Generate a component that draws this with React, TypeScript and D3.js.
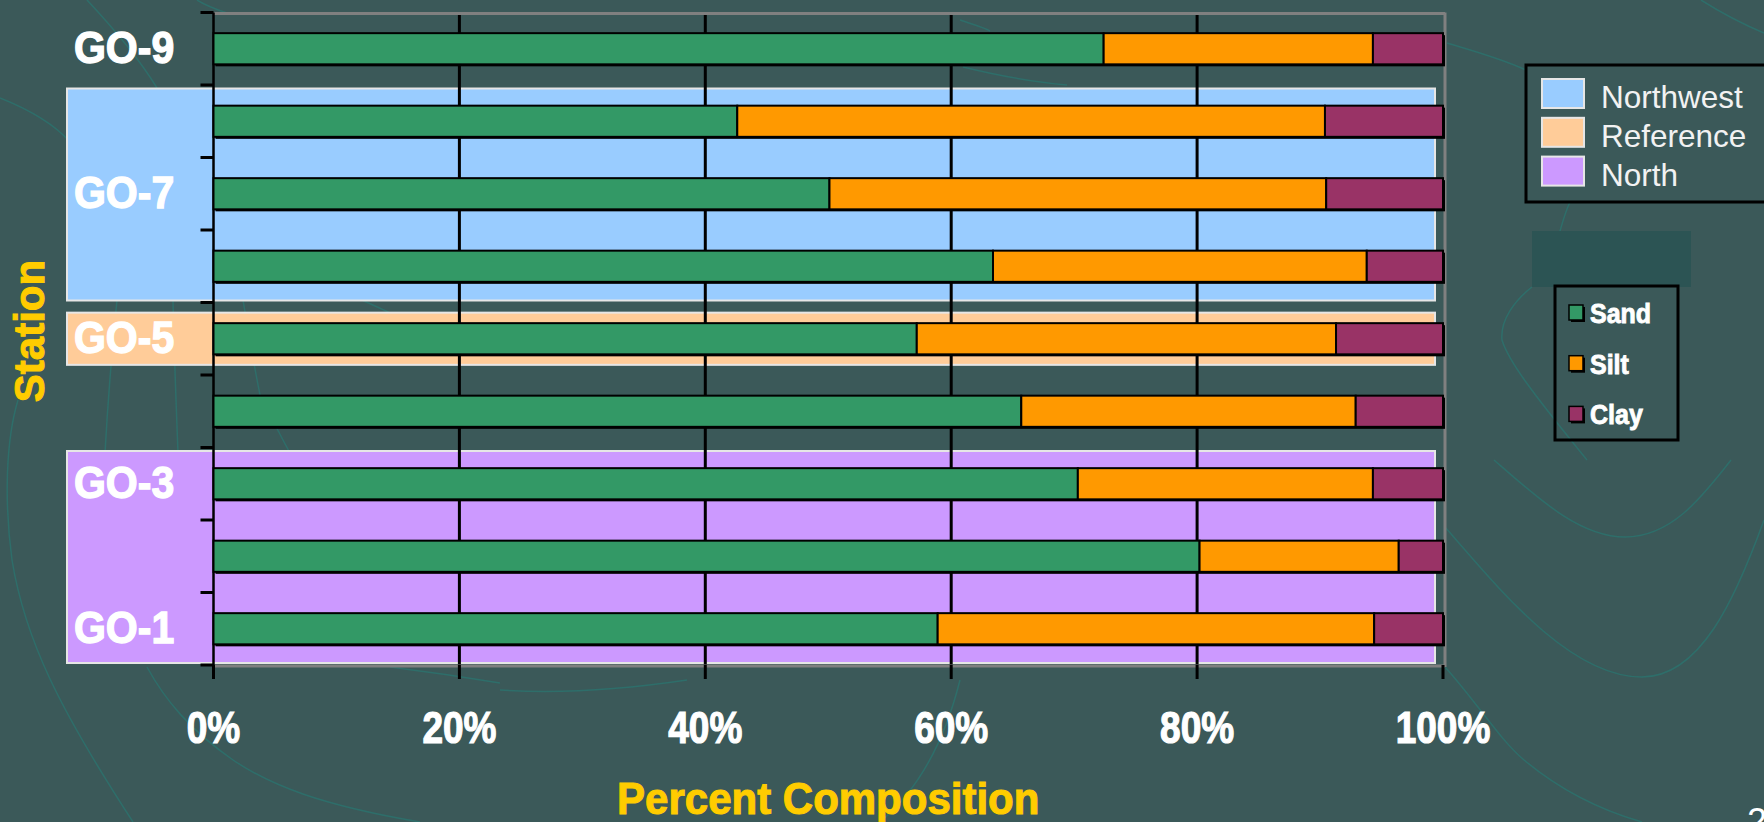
import React from "react";
import * as d3 from "d3";

// ---------- data ----------
const stations = ["GO-9", "GO-8", "GO-7", "GO-6", "GO-5", "GO-4", "GO-3", "GO-2", "GO-1"];
const stationLabels = ["GO-9", "", "GO-7", "", "GO-5", "", "GO-3", "", "GO-1"];
const sand = [72.4, 42.6, 50.1, 63.4, 57.2, 65.7, 70.3, 80.2, 58.9];
const silt = [21.9, 47.8, 40.4, 30.4, 34.1, 27.2, 24.0, 16.2, 35.5];
const clay = [5.7, 9.6, 9.5, 6.2, 8.7, 7.1, 5.7, 3.6, 5.6];
const seriesNames = ["Sand", "Silt", "Clay"];
const seriesColors = ["#339966", "#FF9900", "#993366"];
const xTicks = [0, 20, 40, 60, 80, 100];
const regionNames = ["Northwest", "Reference", "North"];
const regionColors = ["#99CCFF", "#FFCC99", "#CC99FF"];
const regionFirst = ["GO-8", "GO-5", "GO-3"];
const regionLast = ["GO-6", "GO-5", "GO-1"];

// ---------- layout ----------
const W = 1764;
const H = 822;
const BG = "#3B5959";
const FONT = "'Liberation Sans', Arial, sans-serif";

export default function App() {
  const x = d3.scaleLinear().domain([0, 100]).range([213.5, 1443]);
  const y = d3
    .scaleBand<string>()
    .domain(stations)
    .range([12.5, 665])
    .paddingInner(0.57)
    .paddingOuter(0.285);
  const step = y.step();
  const bw = y.bandwidth();
  const [y0, y1] = y.range();
  const center = (s: string) => (y(s) as number) + bw / 2;

  const rows = stations.map((s, i) => {
    const vals = [sand[i], silt[i], clay[i]];
    let acc = 0;
    const segs = vals.map((v, k) => {
      const seg = { x0: acc, x1: acc + v, color: seriesColors[k] };
      acc += v;
      return seg;
    });
    return { s, segs, total: acc };
  });

  const boundaries = d3.range(stations.length + 1).map((i) => y0 + i * step);

  const regions = regionNames.map((name, i) => {
    const a = center(regionFirst[i]);
    const b = center(regionLast[i]);
    const single = regionFirst[i] === regionLast[i];
    const top = single ? a - step * 0.36 : a - step / 2 + 3.5;
    const bottom = single ? a + step * 0.36 : b + step / 2 - 2;
    return { name, color: regionColors[i], top, bottom };
  });

  // background contour lines (decorative slide texture)
  const contours = [
    "M0,98 C30,110 55,125 70,142",
    "M87,0 C115,30 140,60 157,88",
    "M197,0 C205,5 215,9 227,13",
    "M117,300 C113,340 109,380 105,453",
    "M173,300 C174,350 176,400 178,453",
    "M243,300 C248,330 253,360 260,395 C270,415 280,435 290,453",
    "M358,298 C368,303 380,308 390,313",
    "M18,400 C6,440 4,500 12,560 C25,640 60,710 133,822",
    "M147,667 C165,700 190,730 233,760 C270,785 320,805 420,822",
    "M390,667 C430,672 470,678 500,683",
    "M500,690 C560,694 620,690 687,680",
    "M960,680 C950,720 930,780 880,822",
    "M960,20 C975,25 985,28 990,31",
    "M963,67 C1000,76 1030,82 1067,85",
    "M1447,43 C1470,50 1500,58 1526,70",
    "M1701,0 C1720,12 1745,25 1764,33",
    "M1570,202 C1564,215 1562,225 1560,231",
    "M1532,287 C1515,300 1500,320 1502,340 C1508,360 1530,390 1587,460",
    "M1494,460 C1540,500 1580,537 1625,537 C1670,537 1700,500 1731,460",
    "M1445,527 C1500,590 1570,677 1642,677 C1700,677 1735,600 1764,520",
    "M1445,667 C1475,700 1500,740 1524,760 C1560,790 1600,810 1642,822",
  ];

  return (
    <svg
      width={W}
      height={H}
      style={{ position: "absolute", left: 0, top: 0, display: "block" }}
      fontFamily={FONT}
    >
      <rect width={W} height={H} fill={BG} />
      <g fill="none" stroke="#2E6E6A" strokeWidth={1.5}>
        {contours.map((d, i) => (
          <path key={i} d={d} />
        ))}
      </g>

      {/* region bands */}
      {regions.map((r) => (
        <rect
          key={r.name}
          x={67}
          y={r.top}
          width={x(100) - 8 - 67}
          height={r.bottom - r.top}
          fill={r.color}
          stroke="#E6E6E6"
          strokeWidth={2}
        />
      ))}

      {/* gridlines */}
      {xTicks
        .filter((t) => t > 0 && t < 100)
        .map((t) => (
          <line key={t} x1={x(t)} x2={x(t)} y1={y0} y2={y1} stroke="#000" strokeWidth={3} />
        ))}

      {/* plot frame */}
      <line x1={x(0)} x2={x(100) + 2} y1={y0 + 1} y2={y0 + 1} stroke="#808080" strokeWidth={3} />
      <line x1={x(100) + 2} x2={x(100) + 2} y1={y0} y2={y1 + 2} stroke="#808080" strokeWidth={3} />
      <line x1={x(0)} x2={x(100) + 2} y1={y1 + 1} y2={y1 + 1} stroke="#808080" strokeWidth={3} />
      <line x1={x(0)} x2={x(0)} y1={y0} y2={y1 + 2} stroke="#000" strokeWidth={2.5} />
      {boundaries.map((b, i) => (
        <line key={i} x1={x(0) - 13} x2={x(0)} y1={b} y2={b} stroke="#000" strokeWidth={3} />
      ))}
      {xTicks.map((t) => (
        <line key={t} x1={x(t)} x2={x(t)} y1={y1} y2={y1 + 14} stroke="#000" strokeWidth={3} />
      ))}

      {/* bars */}
      {rows.map((r) => (
        <g key={r.s}>
          <rect
            x={x(0) + 2}
            y={(y(r.s) as number) + 2}
            width={x(r.total) - x(0)}
            height={bw}
            fill="#000"
          />
          {r.segs.map((sg, k) => (
            <rect
              key={k}
              x={x(sg.x0)}
              y={y(r.s)}
              width={x(sg.x1) - x(sg.x0)}
              height={bw}
              fill={sg.color}
              stroke="#000"
              strokeWidth={2}
            />
          ))}
        </g>
      ))}

      {/* station labels */}
      {stations.map((s, i) =>
        stationLabels[i] ? (
          <text
            key={s}
            transform={`translate(74,${center(s) + 14.5}) scale(1,1.07)`}
            fill="#fff"
            stroke="#fff"
            strokeWidth={1.2}
            fontWeight="bold"
            fontSize={41}
          >
            {stationLabels[i]}
          </text>
        ) : null
      )}

      {/* x tick labels */}
      {xTicks.map((t) => (
        <text
          key={t}
          transform={`translate(${x(t)},743) scale(1,1.22)`}
          textAnchor="middle"
          fill="#fff"
          stroke="#fff"
          strokeWidth={1}
          fontWeight="bold"
          fontSize={37}
        >
          {`${t}%`}
        </text>
      ))}

      {/* axis titles */}
      <text
        transform={`translate(${(x(0) + x(100)) / 2},814) scale(1,1.07)`}
        textAnchor="middle"
        fill="#FFCC00"
        stroke="#FFCC00"
        strokeWidth={1}
        fontWeight="bold"
        fontSize={42}
      >
        Percent Composition
      </text>
      <text
        transform={`translate(44,331) rotate(-90)`}
        textAnchor="middle"
        fill="#FFCC00"
        stroke="#FFCC00"
        strokeWidth={1}
        fontWeight="bold"
        fontSize={42}
      >
        Station
      </text>

      {/* region legend */}
      <rect x={1526} y={65} width={260} height={137} fill="none" stroke="#000" strokeWidth={3} />
      {regionNames.map((n, i) => (
        <g key={n} transform={`translate(0,${i * 38.8})`}>
          <rect x={1542} y={79} width={42} height={29} fill={regionColors[i]} stroke="#E6E6E6" strokeWidth={2} />
          <text x={1601} y={108} fill="#F2F2F2" fontSize={31.5}>
            {n}
          </text>
        </g>
      ))}

      {/* series legend */}
      <rect x={1532} y={231} width={159} height={56} fill="#2C5454" />
      <rect x={1555} y={286} width={123} height={154} fill="none" stroke="#000" strokeWidth={3} />
      {seriesNames.map((n, i) => (
        <g key={n} transform={`translate(0,${i * 50.7})`}>
          <rect x={1571} y={307} width={14} height={15} fill="#000" />
          <rect x={1569} y={305} width={14} height={15} fill={seriesColors[i]} stroke="#000" strokeWidth={1.5} />
          <text
            transform={`translate(1590,323) scale(1,1.13)`}
            fill="#fff"
            stroke="#fff"
            strokeWidth={0.8}
            fontWeight="bold"
            fontSize={25}
          >
            {n}
          </text>
        </g>
      ))}

      {/* slide number (cut off at the slide edge, as in the original) */}
      <text x={1747} y={834} fill="#fff" fontSize={36}>
        2
      </text>
    </svg>
  );
}
